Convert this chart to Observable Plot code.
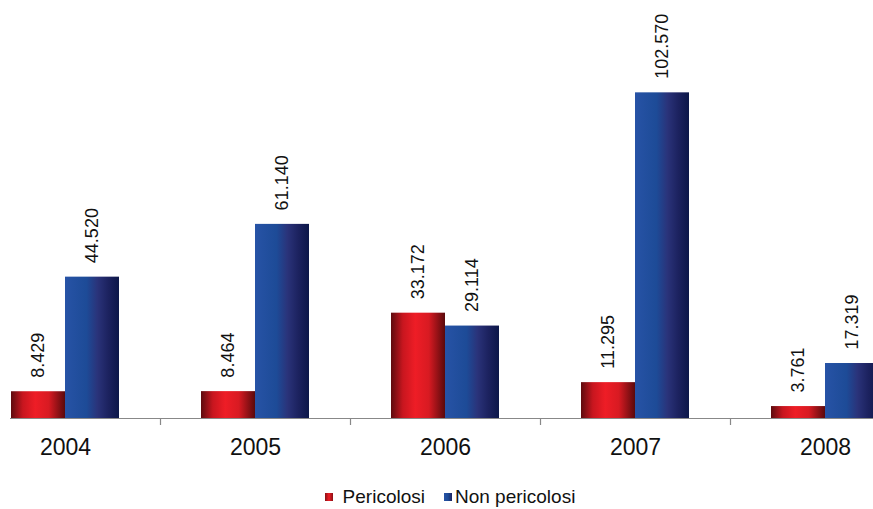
<!DOCTYPE html>
<html>
<head>
<meta charset="utf-8">
<script src="https://cdn.jsdelivr.net/npm/d3@7"></script>
<script src="https://cdn.jsdelivr.net/npm/@observablehq/plot@0.6"></script>
<style>
  body { margin: 0; background: #fff; font-family: "Liberation Sans", Arial, sans-serif; }
  #chart svg { display: block; }
  .legend { display: flex; justify-content: center; gap: 19px; font-size: 19px; color: #111; margin-left: 27px; height: 24px; align-items: center; }
  .legend span.sw { display: inline-block; width: 8px; height: 8px; vertical-align: middle; position: relative; top: -1px; }
</style>
</head>
<body>
<div id="chart"></div>
<div class="legend">
  <div><span class="sw" style="margin-right:10px;background:linear-gradient(90deg,#8a1015,#ee1d26,#8a1015)"></span>Pericolosi</div>
  <div><span class="sw" style="margin-right:3px;background:linear-gradient(90deg,#2753a6,#1d4b97,#1c225f)"></span>Non pericolosi</div>
</div>
<script>
// Rifiuti prodotti per anno (tonnellate)
const years = ["2004", "2005", "2006", "2007", "2008"];
const pericolosi = [8429, 8464, 33172, 11295, 3761];
const nonPericolosi = [44520, 61140, 29114, 102570, 17319];

const itFormat = d3.formatLocale({decimal: ",", thousands: ".", grouping: [3], currency: ["€", ""]}).format(",");

const redData = years.map((year, i) => ({year, value: pericolosi[i]}));
const blueData = years.map((year, i) => ({year, value: nonPericolosi[i]}));

const W = 873, H = 485;
const half = 54;

const chart = Plot.plot({
  width: W,
  height: H,
  marginLeft: 10,
  marginRight: 0,
  marginTop: 0,
  marginBottom: 67,
  style: {fontFamily: "'Liberation Sans', Arial, sans-serif", background: "transparent"},
  x: {domain: years, range: [-30, 920], paddingInner: 0.43, paddingOuter: 0.215, label: null},
  y: {domain: [0, 120000], range: [418, 37], axis: null},
  marks: [
    () => {
      const defs = d3.create("svg:defs");
      const red = defs.append("linearGradient").attr("id", "gradRed").attr("x1", "0").attr("x2", "1").attr("y1", "0").attr("y2", "0");
      [[0, "#5e0b0e"], [0.22, "#c8161f"], [0.45, "#ee1d26"], [0.7, "#d81a22"], [1, "#5a0a0c"]]
        .forEach(([o, c]) => red.append("stop").attr("offset", o).attr("stop-color", c));
      const blue = defs.append("linearGradient").attr("id", "gradBlue").attr("x1", "0").attr("x2", "1").attr("y1", "0").attr("y2", "0");
      [[0, "#2753a6"], [0.4, "#1d4b97"], [0.6, "#2a337a"], [0.8, "#1c225f"], [1, "#0c1748"]]
        .forEach(([o, c]) => blue.append("stop").attr("offset", o).attr("stop-color", c));
      return defs.node();
    },
    Plot.barY(redData, {x: "year", y: "value", fill: "url(#gradRed)", insetLeft: 0, insetRight: half, inset: 0}),
    Plot.barY(blueData, {x: "year", y: "value", fill: "url(#gradBlue)", insetLeft: half, insetRight: 0, inset: 0}),
    Plot.ruleY([0], {stroke: "#888", strokeWidth: 1.2}),
    Plot.axisX({ticks: years.slice(0, 4), tickSize: 7, dx: 95, text: null, stroke: "#888", strokeWidth: 1.2}),
    Plot.axisX({tickSize: 0, tickPadding: 20, fontSize: 23, fill: "#111", label: null}),
    Plot.text(redData, {x: "year", y: "value", text: d => itFormat(d.value), rotate: -90, textAnchor: "start", dx: -27, dy: -14, fontSize: 18, fill: "#111"}),
    Plot.text(blueData, {x: "year", y: "value", text: d => itFormat(d.value), rotate: -90, textAnchor: "start", dx: 27, dy: -14, fontSize: 18, fill: "#111"})
  ]
});

document.getElementById("chart").appendChild(chart);
</script>
</body>
</html>
